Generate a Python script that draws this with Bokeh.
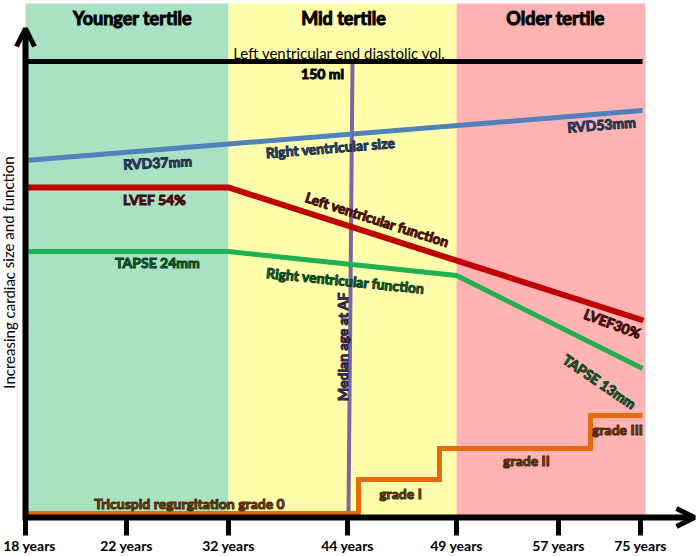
from bokeh.plotting import figure
from bokeh.models import Arrow, OpenHead, Range1d, ColumnDataSource
from bokeh.core.properties import value
from bokeh.embed import file_html
from bokeh.resources import INLINE
import math

FONT = "Lato"

# ---- data (schematic units: x = position along age axis, y = height above axis) ----
tick_pos = [0, 101, 203, 322, 431, 533, 615]
tick_labels = ["18 years", "22 years", "32 years", "44 years", "49 years", "57 years", "75 years"]

tertile_names = ["Younger tertile", "Mid tertile", "Older tertile"]
tertile_left = [0, 203, 431]
tertile_right = [203, 431, 620]
tertile_colors = ["#a8e2c3", "#ffffab", "#ffb3b3"]

lvedv_x = [0, 617]
lvedv_y = [456, 456]

rvd_x = [0, 617]
rvd_y = [357, 407]

lvef_x = [0, 203, 618]
lvef_y = [330, 330, 197]

tapse_x = [0, 203, 431, 617]
tapse_y = [266, 266, 242, 149]

tr_x = [0, 333, 414, 565, 617]
tr_y = [4, 38, 69, 102, 102]

median_age_x = [327, 323]
median_age_y = [455, 4]

# ---- figure (frame fills the page; axes drawn as arrows) ----
p = figure(width=700, height=556, x_range=Range1d(-25, 675), y_range=Range1d(-39, 517),
           output_backend="svg", toolbar_location=None,
           x_axis_type=None, y_axis_type=None,
           min_border=0, min_border_left=0, min_border_right=0,
           min_border_top=0, min_border_bottom=0)
p.grid.visible = False
p.outline_line_color = None
p.background_fill_color = "white"
p.border_fill_color = "white"

# tertile bands
p.quad(left=tertile_left, right=tertile_right, bottom=[0] * 3, top=[514] * 3,
       fill_color=tertile_colors, line_color=None)

# median age line (under the other lines)
p.line(median_age_x, median_age_y, line_color="#8064a2", line_width=4)

# curves
p.line(lvedv_x, lvedv_y, line_color="black", line_width=5)
p.line(rvd_x, rvd_y, line_color="#4f81bd", line_width=5)
p.line(lvef_x, lvef_y, line_color="#c00000", line_width=6, line_join="miter")
p.line(tapse_x, tapse_y, line_color="#1fb050", line_width=5, line_join="miter")
p.step(tr_x, tr_y, mode="after", line_color="#e46c0a", line_width=5, line_join="miter")

# axes as arrows
p.add_layout(Arrow(end=OpenHead(size=18, line_width=5, line_color="black"),
                   x_start=0, y_start=0, x_end=669, y_end=0,
                   line_width=6, line_color="black"))
p.add_layout(Arrow(end=OpenHead(size=18, line_width=5, line_color="black"),
                   x_start=0, y_start=-3, x_end=0, y_end=489,
                   line_width=6, line_color="black"))

# x ticks and tick labels
n = len(tick_pos)
p.segment(x0=tick_pos, y0=[-2] * n, x1=tick_pos, y1=[-18] * n,
          line_color="black", line_width=5)
tick_src = ColumnDataSource(dict(x=tick_pos, y=[-28] * n, text=tick_labels,
                                 xo=[4] + [0] * (n - 1)))
p.text(x="x", y="y", text="text", x_offset="xo", source=tick_src,
       text_color="black", text_font=value(FONT), text_font_size="14px",
       text_font_style="bold", text_align="center", text_baseline="middle")


def add_text(xs, ys, texts, angles, color, size, style="bold", outline=None):
    src = ColumnDataSource(dict(x=xs, y=ys, text=texts, angle=angles))
    kw = {}
    if outline is not None:
        kw["text_outline_color"] = outline
    p.text(x="x", y="y", text="text", angle="angle", source=src,
           text_color=color, text_font=value(FONT), text_font_size=size,
           text_font_style=style, text_align="center", text_baseline="middle", **kw)


# tertile titles
add_text([107, 318, 530], [500, 500, 500], tertile_names, [0, 0, 0], "black", "18px", outline="black")

# LVEDV
add_text([314], [465], ["Left ventricular end diastolic vol."], [0], "black", "15px", style="normal")
add_text([297], [444], ["150 ml"], [0], "black", "14px", outline="black")

# RV size
add_text([132, 305, 576], [355, 370, 393], ["RVD37mm", "Right ventricular size", "RVD53mm"],
         [0.05, 0.08, 0.08], "#2b4d7e", "14px", outline="#1c2f4d")
# LV function
add_text([129, 352, 587], [318, 298, 194], ["LVEF 54%", "Left ventricular function", "LVEF30%"],
         [0, -0.31, -0.36], "#6a1212", "14px", outline="#3a0808")
# RV function
add_text([132, 320, 574], [255, 237, 136], ["TAPSE 24mm", "Right ventricular function", "TAPSE 13mm"],
         [0, -0.1, -0.6], "#16703a", "14px", outline="#0b3d1e")
# median age
add_text([317], [171], ["Median age at AF"], [math.pi / 2], "#4a3a6e", "14px", outline="#2a2040")
# tricuspid regurgitation
add_text([164, 375, 501, 592], [14, 24, 57, 88],
         ["Tricuspid regurgitation grade 0", "grade I", "grade II", "grade III"],
         [0, 0, 0, 0], "#8a4a14", "14px", outline="#4a2608")

# y axis title
add_text([-17], [245], ["Increasing cardiac size and function"], [math.pi / 2], "black", "15px",
         style="normal")

open("out.html", "w").write(file_html(p, INLINE))
